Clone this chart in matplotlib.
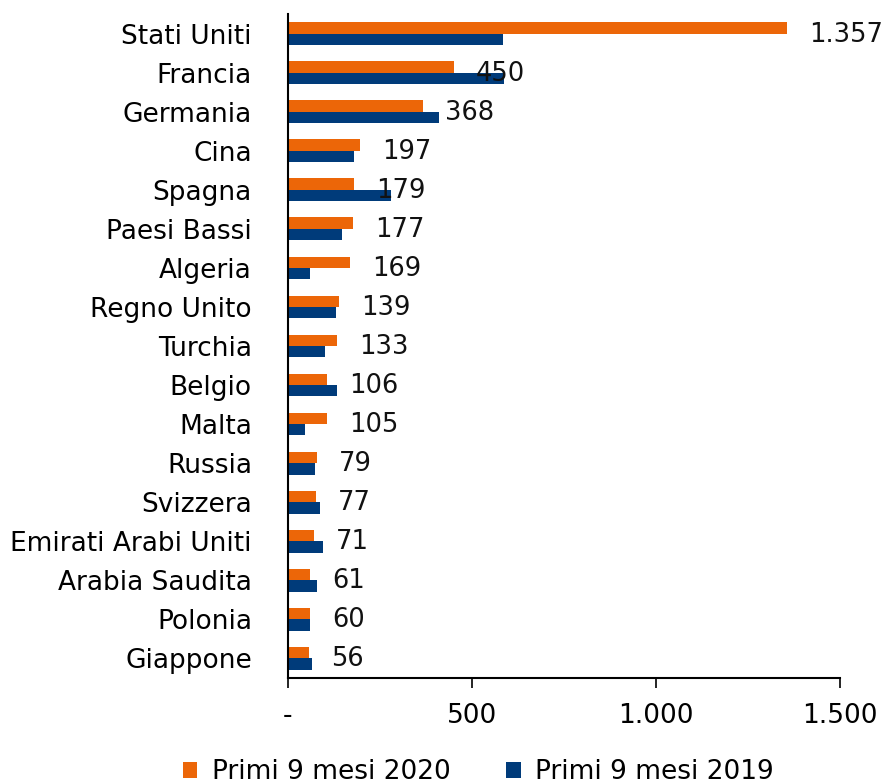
import numpy as np
import matplotlib
matplotlib.use('Agg')
from matplotlib import pyplot as plt

# data
paesi = ['Stati Uniti', 'Francia', 'Germania', 'Cina', 'Spagna', 'Paesi Bassi',
         'Algeria', 'Regno Unito', 'Turchia', 'Belgio', 'Malta', 'Russia',
         'Svizzera', 'Emirati Arabi Uniti', 'Arabia Saudita', 'Polonia', 'Giappone']
val_2020 = [1357, 450, 368, 197, 179, 177, 169, 139, 133, 106, 105, 79, 77, 71, 61, 60, 56]
val_2019 = [583, 588, 409, 180, 280, 148, 60, 130, 101, 132, 45, 73, 88, 94, 79, 60, 64]
x_ticks = [0, 500, 1000, 1500]
x_ticklabels = ['-', '500', '1.000', '1.500']

def fmt_it(v):
    return '{:,}'.format(v).replace(',', '.')

plt.rcParams['font.family'] = ['DejaVu Sans']
FS = 19

fig = plt.figure(figsize=(8.86, 7.84), dpi=100)
ax = fig.add_axes([288/886, 1 - 678/784, 552/886, 664/784])

n = len(paesi)
y = np.arange(n)
h = 0.29
c_2020 = '#EC6608'
c_2019 = '#003B7A'

ax.barh(y - h/2, val_2020, height=h, color=c_2020, label='Primi 9 mesi 2020')
ax.barh(y + h/2, val_2019, height=h, color=c_2019, label='Primi 9 mesi 2019')

# etichette solo per il 2020
for yi, v in zip(y, val_2020):
    ax.annotate(fmt_it(v), (v, yi), xytext=(22, -1), textcoords='offset pixels',
                va='center', ha='left', fontsize=FS - 0.5, color='#111111')

ax.set_ylim(n - 0.5, -0.5)
ax.set_xlim(0, 1500)
ax.set_yticks(y)
ax.set_yticklabels(paesi, fontsize=FS)
ax.set_xticks(x_ticks)
ax.set_xticklabels(x_ticklabels, fontsize=FS)
ax.tick_params(axis='y', length=0, pad=26)
ax.tick_params(axis='x', length=7, width=1.2, pad=11)
ax.spines['top'].set_visible(False)
ax.spines['right'].set_visible(False)
ax.spines['left'].set_linewidth(1.5)
ax.spines['bottom'].set_linewidth(1.5)

ax.legend(loc='center', bbox_to_anchor=(0.345, -0.142), ncol=2, frameon=False,
          fontsize=FS, handlelength=0.55, handleheight=0.55, columnspacing=2.1,
          handletextpad=0.55)

fig.savefig('out.png', dpi=100)
